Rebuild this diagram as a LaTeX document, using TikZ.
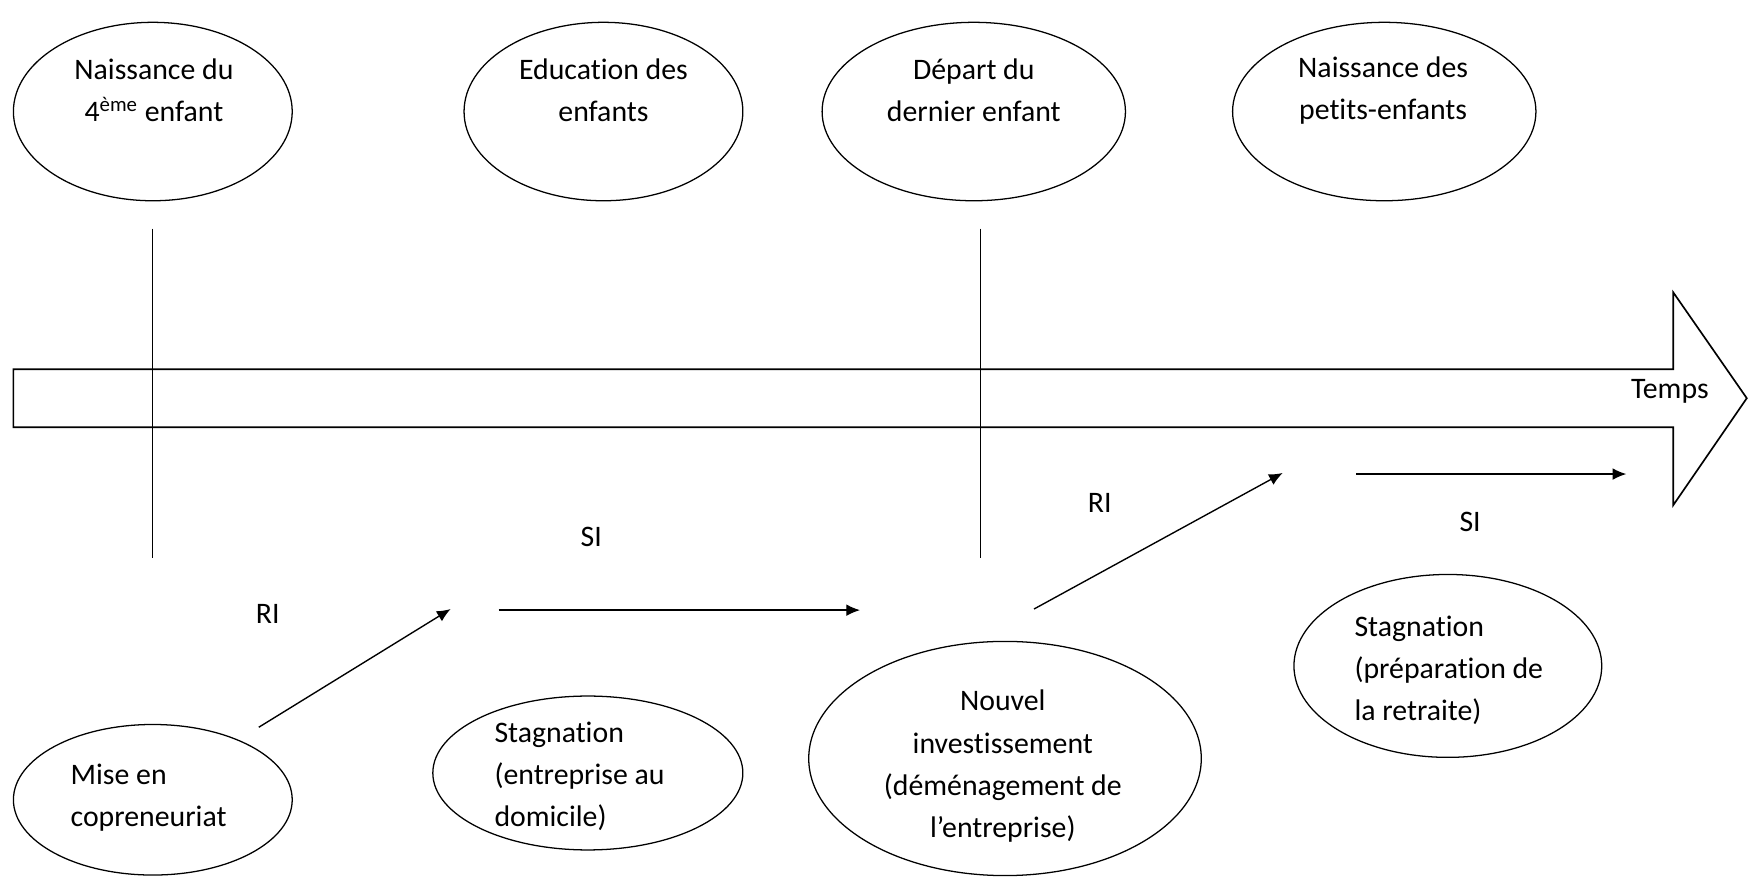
\documentclass[tikz,border=0pt]{standalone}
\usepackage{fontspec}
\setmainfont[Ligatures={NoCommon}]{Carlito}
\usetikzlibrary{shapes.geometric,arrows.meta}
\begin{document}
\begin{tikzpicture}[x=0.02cm,y=-0.02cm,
  ell/.style={draw,ellipse,line width=0.65pt,inner sep=0pt},
  txt/.style={inner sep=0pt,font=\fontsize{15.2}{21.6}\selectfont},
  conn/.style={line width=0.7pt,-{Latex[length=7pt,width=6pt]}},
  mark line/.style={line width=0.55pt}]
\useasboundingbox (0,0) rectangle (1568,786);
% top ellipses
\node[ell,minimum width=5cm,minimum height=3.2cm] (e1) at (137,100) {};
\node[ell,minimum width=5cm,minimum height=3.2cm] (e2) at (541,100) {};
\node[ell,minimum width=5.44cm,minimum height=3.2cm] (e3) at (873,100) {};
\node[ell,minimum width=5.44cm,minimum height=3.2cm] (e4) at (1241,100) {};
\node[txt,align=center] (t1) at (138,81) {Naissance du\\4\textsuperscript{ème} enfant};
\node[txt,align=center] (t2) at (541,81) {Education des\\enfants};
\node[txt,align=center] (t3) at (873,81) {Départ du\\dernier enfant};
\node[txt,align=center] (t4) at (1240,81) {Naissance des\\petits-enfants};
% big time arrow
\draw[line width=0.85pt] (12,331) -- (1500,331) -- (1500,262) -- (1566,357) -- (1500,453) -- (1500,383) -- (12,383) -- cycle;
\node[txt] (temps) at (1497,351) {Temps};
% vertical marks
\coordinate (v1a) at (137,205); \coordinate (v1b) at (137,500);
\coordinate (v2a) at (879,205); \coordinate (v2b) at (879,500);
\draw[mark line] (v1a) -- (v1b);
\draw[mark line] (v2a) -- (v2b);
% bottom ellipses
\node[ell,minimum width=5cm,minimum height=2.7cm] (b1) at (137,717) {};
\node[ell,minimum width=5.56cm,minimum height=2.76cm] (b2) at (527,693) {};
\node[ell,minimum width=7.04cm,minimum height=4.2cm] (b3) at (901,680) {};
\node[ell,minimum width=5.52cm,minimum height=3.28cm] (b4) at (1298,597) {};
\node[txt,align=left,anchor=west] (s1) at (63,715) {Mise en\\copreneuriat};
\node[txt,align=left,anchor=west] (s2) at (443,696) {Stagnation\\(entreprise au\\domicile)};
\node[txt,align=center] (s3) at (899,687) {Nouvel\\investissement\\(déménagement de\\l’entreprise)};
\node[txt,align=left,anchor=west] (s4) at (1214,601) {Stagnation\\(préparation de\\la retraite)};
% phase arrows
\coordinate (a1s) at (232,652); \coordinate (a1e) at (404,546);
\coordinate (a2s) at (447,547); \coordinate (a2e) at (771,547);
\coordinate (a3s) at (927,546); \coordinate (a3e) at (1150,424);
\coordinate (a4s) at (1216,425); \coordinate (a4e) at (1458,425);
\draw[conn] (a1s) -- (a1e);
\draw[conn] (a2s) -- (a2e);
\draw[conn] (a3s) -- (a3e);
\draw[conn] (a4s) -- (a4e);
\node[txt] (l1) at (240,550) {RI};
\node[txt] (l2) at (530,481) {SI};
\node[txt] (l3) at (986,451) {RI};
\node[txt] (l4) at (1318,468) {SI};
\end{tikzpicture}
\end{document}
